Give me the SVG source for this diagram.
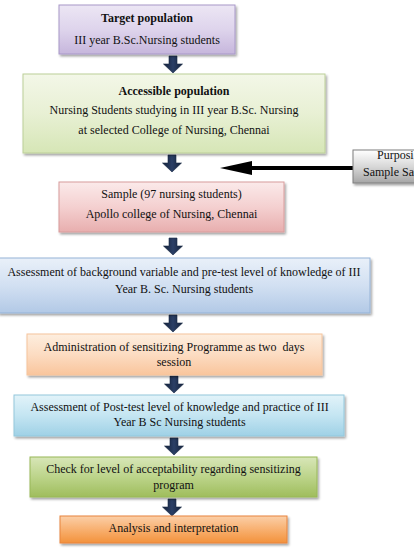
<svg xmlns="http://www.w3.org/2000/svg" width="414" height="557" viewBox="0 0 414 557">
<defs>
<style>
.t{font-family:"Liberation Serif","Times New Roman",serif;font-size:12px;fill:#111;text-anchor:middle}
.b{font-weight:bold}
.box{stroke-width:1;filter:url(#sh)}
.darr{fill:url(#ag);stroke:#1a2a44;stroke-width:0.6}
</style>
<filter id="sh" x="-10%" y="-20%" width="120%" height="150%">
<feDropShadow dx="1.5" dy="2" stdDeviation="1.2" flood-color="#000" flood-opacity="0.35"/>
</filter>
<linearGradient id="g1" x1="0" y1="0" x2="0" y2="1"><stop offset="0" stop-color="#ece6f4"/><stop offset="0.5" stop-color="#ded4ec"/><stop offset="1" stop-color="#c6b6dc"/></linearGradient>
<linearGradient id="g2" x1="0" y1="0" x2="0" y2="1"><stop offset="0" stop-color="#f3f7e8"/><stop offset="0.5" stop-color="#e8f0d4"/><stop offset="1" stop-color="#d6e6b6"/></linearGradient>
<linearGradient id="g3" x1="0" y1="0" x2="0" y2="1"><stop offset="0" stop-color="#fbeaea"/><stop offset="0.5" stop-color="#f4d0d0"/><stop offset="1" stop-color="#e8aeae"/></linearGradient>
<linearGradient id="g4" x1="0" y1="0" x2="0" y2="1"><stop offset="0" stop-color="#e9f0f9"/><stop offset="0.5" stop-color="#d2e0f2"/><stop offset="1" stop-color="#b2c9e6"/></linearGradient>
<linearGradient id="g5" x1="0" y1="0" x2="0" y2="1"><stop offset="0" stop-color="#fdeedf"/><stop offset="0.5" stop-color="#fcdcc2"/><stop offset="1" stop-color="#f9c59c"/></linearGradient>
<linearGradient id="g6" x1="0" y1="0" x2="0" y2="1"><stop offset="0" stop-color="#e2f3f9"/><stop offset="0.5" stop-color="#c4e5f2"/><stop offset="1" stop-color="#9fd1e6"/></linearGradient>
<linearGradient id="g7" x1="0" y1="0" x2="0" y2="1"><stop offset="0" stop-color="#d8e6b8"/><stop offset="0.5" stop-color="#bcd48a"/><stop offset="1" stop-color="#9fbd5c"/></linearGradient>
<linearGradient id="g8" x1="0" y1="0" x2="0" y2="1"><stop offset="0" stop-color="#fbcfa8"/><stop offset="0.5" stop-color="#f8b070"/><stop offset="1" stop-color="#f3923c"/></linearGradient>
<linearGradient id="g9" x1="0" y1="0" x2="0" y2="1"><stop offset="0" stop-color="#ffffff"/><stop offset="0.5" stop-color="#d8d8d8"/><stop offset="1" stop-color="#a6a6a6"/></linearGradient>
<linearGradient id="ag" x1="0" y1="0" x2="1" y2="0"><stop offset="0" stop-color="#14213a"/><stop offset="0.5" stop-color="#2b3f66"/><stop offset="1" stop-color="#14213a"/></linearGradient>
<path id="da" d="M-4,0 H4 V8 H9.5 L0,17 L-9.5,8 H-4 Z"/>
</defs>

<g id="connectors">
<use href="#da" class="darr" x="173" y="56"/>
<use href="#da" class="darr" x="172" y="155"/>
<use href="#da" class="darr" x="173" y="238"/>
<use href="#da" class="darr" x="173" y="315"/>
<use href="#da" class="darr" x="174" y="376"/>
<use href="#da" class="darr" x="174" y="438"/>
<use href="#da" class="darr" x="172" y="499"/>
<g id="side-arrow">
<line x1="355" y1="168" x2="248" y2="168" stroke="#000" stroke-width="4"/>
<polygon points="220,168 252,161 252,175" fill="#000"/>
</g>
</g>

<g id="n-target">
<rect class="box" x="59" y="5" width="176" height="49" fill="url(#g1)" stroke="#a898c8"/>
<text class="t b" x="147" y="22">Target population</text>
<text class="t" x="147" y="44">III year B.Sc.Nursing students</text>
</g>

<g id="n-accessible">
<rect class="box" x="23" y="74" width="302" height="79" fill="url(#g2)" stroke="#bccf98"/>
<text class="t b" x="174" y="95">Accessible population</text>
<text class="t" x="174" y="114">Nursing Students studying in III year B.Sc. Nursing</text>
<text class="t" x="174" y="134">at selected College of Nursing, Chennai</text>
</g>

<g id="n-purposive">
<rect class="box" x="353" y="150" width="70" height="33" fill="url(#g9)" stroke="#7f7f7f"/>
<text class="t" x="377" y="159" style="text-anchor:start">Purposi</text>
<text class="t" x="363" y="176" style="text-anchor:start">Sample Sa</text>
</g>

<g id="n-sample">
<rect class="box" x="59" y="182" width="225" height="50" fill="url(#g3)" stroke="#d89c9c"/>
<text class="t" x="171.5" y="198">Sample (97 nursing students)</text>
<text class="t" x="171.5" y="218">Apollo college of Nursing, Chennai</text>
</g>

<g id="n-pretest">
<rect class="box" x="-2" y="258" width="372" height="55" fill="url(#g4)" stroke="#95b3d7"/>
<text class="t" x="184" y="276">Assessment of background variable and pre-test level of knowledge of III</text>
<text class="t" x="184" y="293">Year B. Sc. Nursing students</text>
</g>

<g id="n-admin">
<rect class="box" x="27" y="334" width="295" height="41" fill="url(#g5)" stroke="#f6c49c"/>
<text class="t" x="174" y="351" style="white-space:pre">Administration of sensitizing Programme as two  days</text>
<text class="t" x="174" y="366">session</text>
</g>

<g id="n-posttest">
<rect class="box" x="14" y="395" width="330" height="41" fill="url(#g6)" stroke="#93c8dc"/>
<text class="t" x="179.5" y="411">Assessment of Post-test level of knowledge and practice of III</text>
<text class="t" x="179.5" y="426">Year B Sc Nursing students</text>
</g>

<g id="n-check">
<rect class="box" x="30" y="457" width="287" height="40" fill="url(#g7)" stroke="#98b858"/>
<text class="t" x="173.5" y="473">Check for level of acceptability regarding sensitizing</text>
<text class="t" x="173.5" y="489">program</text>
</g>

<g id="n-analysis">
<rect class="box" x="60" y="516" width="227" height="27" fill="url(#g8)" stroke="#e8843c"/>
<text class="t" x="173.5" y="532">Analysis and interpretation</text>
</g>
</svg>
